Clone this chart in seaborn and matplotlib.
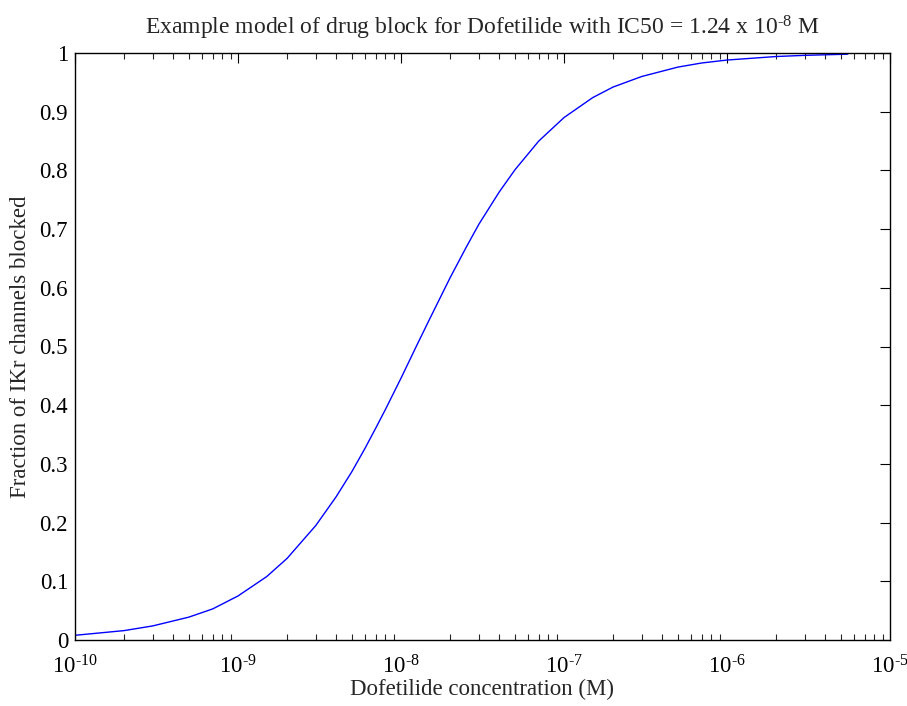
import numpy as np
import pandas as pd
import matplotlib
matplotlib.use("Agg")
import matplotlib.pyplot as plt
from matplotlib.ticker import FixedLocator, FixedFormatter, LogLocator, NullFormatter
import seaborn as sns

# Data
concentration = [1e-10, 2e-10, 3e-10, 5e-10, 7e-10, 1e-9, 1.5e-9, 2e-9, 3e-9, 4e-9,
                 5e-9, 6e-9, 7e-9, 8e-9, 1e-8, 1.24e-8, 1.5e-8, 2e-8, 2.5e-8, 3e-8,
                 4e-8, 5e-8, 7e-8, 1e-7, 1.5e-7, 2e-7, 3e-7, 5e-7, 7e-7, 1e-6,
                 2e-6, 3e-6, 5.5e-6]
fraction_blocked = [0.008, 0.016, 0.024, 0.039, 0.053, 0.075, 0.108, 0.139, 0.195, 0.244,
                    0.287, 0.326, 0.361, 0.392, 0.446, 0.500, 0.547, 0.617, 0.668, 0.708,
                    0.763, 0.801, 0.850, 0.890, 0.924, 0.942, 0.960, 0.976, 0.983, 0.988,
                    0.994, 0.996, 0.998]
x_ticks = [1e-10, 1e-9, 1e-8, 1e-7, 1e-6, 1e-5]
x_tick_labels = [r"10$^{\text{-10}}$", r"10$^{\text{-9}}$", r"10$^{\text{-8}}$",
                 r"10$^{\text{-7}}$", r"10$^{\text{-6}}$", r"10$^{\text{-5}}$"]
y_ticks = [0, 0.1, 0.2, 0.3, 0.4, 0.5, 0.6, 0.7, 0.8, 0.9, 1]
y_tick_labels = ["0", "0.1", "0.2", "0.3", "0.4", "0.5", "0.6", "0.7", "0.8", "0.9", "1"]

title = r"Example model of drug block for Dofetilide with IC50 = 1.24 x 10$^{\text{-8}}$ M"
xlabel = "Dofetilide concentration (M)"
ylabel = "Fraction of IKr channels blocked"

sns.set_style("white")
plt.rcParams["font.family"] = ["Liberation Serif", "DejaVu Serif"]
plt.rcParams["mathtext.fontset"] = "custom"
plt.rcParams["mathtext.rm"] = "Liberation Serif"
plt.rcParams["mathtext.it"] = "Liberation Serif:italic"
plt.rcParams["mathtext.bf"] = "Liberation Serif:bold"
plt.rcParams["mathtext.default"] = "regular"
plt.rcParams["axes.unicode_minus"] = False

FS = 16.5

df = pd.DataFrame({"conc": concentration, "frac": fraction_blocked})

fig = plt.figure(figsize=(9.07, 7.06), dpi=100)
ax = fig.add_axes([75/907, 66/706, 815/907, 587/706])
sns.lineplot(data=df, x="conc", y="frac", ax=ax, color="#0000ff", linewidth=1.0)
ax.set_xscale("log")
ax.set_xlim(1e-10, 1e-5)
ax.set_ylim(0, 1)
ax.xaxis.set_major_locator(FixedLocator(x_ticks))
ax.xaxis.set_major_formatter(FixedFormatter(x_tick_labels))
ax.xaxis.set_minor_locator(LogLocator(base=10, subs=np.arange(2, 10)))
ax.xaxis.set_minor_formatter(NullFormatter())
ax.set_yticks(y_ticks)
ax.set_yticklabels(y_tick_labels)

for s in ax.spines.values():
    s.set_color("black")
    s.set_linewidth(1.0)

ax.tick_params(axis="both", which="major", direction="in", length=7, width=0.8,
               top=True, right=True, labelsize=FS, colors="black")
ax.tick_params(axis="x", which="minor", direction="in", length=4, width=0.8, top=True, bottom=True)
ax.tick_params(axis="x", which="major", pad=11)
ax.tick_params(axis="y", which="major", pad=5)

ax.set_title(title, fontsize=17, pad=13)
ax.set_xlabel(xlabel, fontsize=FS, labelpad=0)
ax.set_ylabel(ylabel, fontsize=FS, labelpad=6)

fig.savefig("out.png", dpi=100)
